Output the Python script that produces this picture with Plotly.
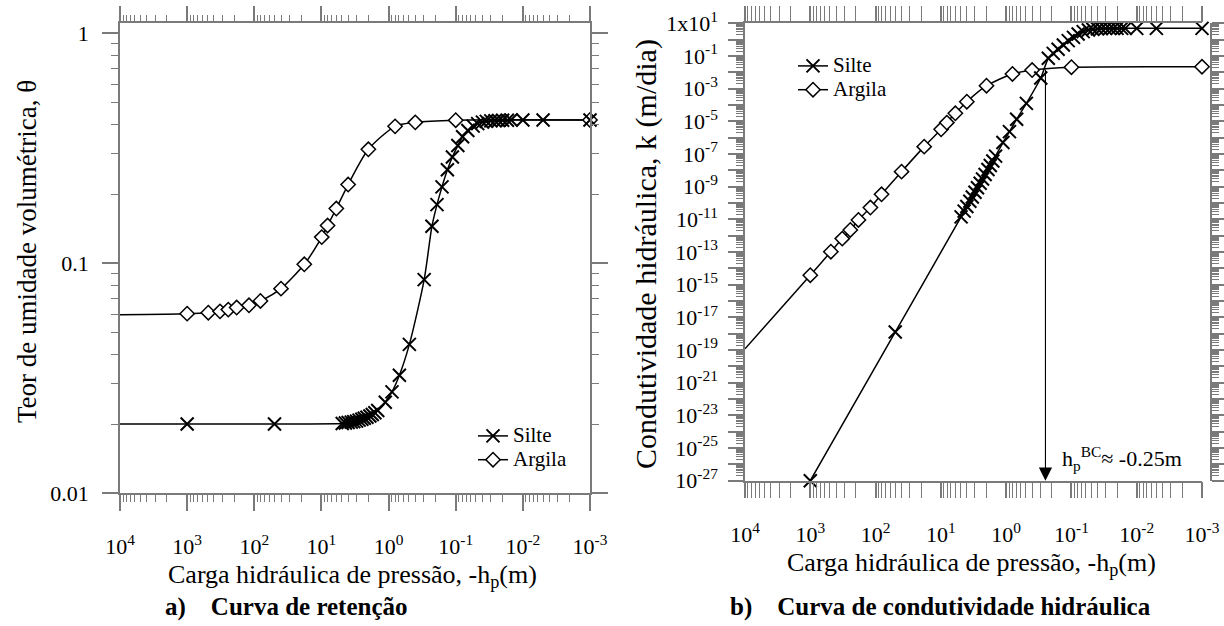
import numpy as np
import plotly.graph_objects as go

# ---------------- data ----------------
# common pressure-head axis (m, shown as -h_p)
h_ticks = [1e4, 1e3, 1e2, 1e1, 1e0, 1e-1, 1e-2, 1e-3]
h_ticktext = ["10<sup>4</sup>", "10<sup>3</sup>", "10<sup>2</sup>", "10<sup>1</sup>",
              "10<sup>0</sup>", "10<sup>-1</sup>", "10<sup>-2</sup>", "10<sup>-3</sup>"]
theta_ticks = [1, 0.1, 0.01]
theta_ticktext = ["1", "0.1", "0.01"]
k_tick_exps = list(range(1, -28, -1))

# Silte (silt) points
silte_h = [1000, 50, 4.9, 4.4, 4.0, 3.6, 3.3, 3.0, 2.75, 2.5, 2.3, 2.1, 1.9, 1.75, 1.6, 1.45,
           1.12, 0.89, 0.69, 0.49, 0.295, 0.226, 0.19, 0.16, 0.133, 0.112, 0.093, 0.079,
           0.066, 0.055, 0.047, 0.040, 0.035, 0.030, 0.026, 0.023, 0.020, 0.017, 0.015,
           0.010, 0.005, 0.001]
silte_theta = [0.0200, 0.0200, 0.0201, 0.0202, 0.0203, 0.0204, 0.0205, 0.0206, 0.0208, 0.0210,
               0.0212, 0.0214, 0.0217, 0.0220, 0.0224, 0.0229,
               0.0249, 0.0276, 0.0326, 0.0444, 0.0849, 0.145, 0.180, 0.215, 0.255, 0.290,
               0.325, 0.355, 0.378, 0.395, 0.405, 0.411, 0.414, 0.416, 0.417, 0.418, 0.419,
               0.419, 0.420, 0.420, 0.420, 0.420]
silte_log10k = [-27.0, -17.9, -10.85, -10.50, -10.21, -9.89, -9.63, -9.34, -9.07, -8.79,
                -8.53, -8.26, -7.95, -7.70, -7.43, -7.13,
                -6.30, -5.63, -4.87, -3.90, -2.35, -1.14, -0.84, -0.59, -0.33, -0.06,
                0.14, 0.35, 0.49, 0.59, 0.64, 0.66, 0.68, 0.69, 0.69, 0.69, 0.69,
                0.69, 0.69, 0.69, 0.69, 0.69]

# Argila (clay) points
argila_h = [1000, 484, 324, 244, 183, 120, 81, 40, 18, 9.9, 8.1, 6.0, 4.0, 2.0, 0.8, 0.4, 0.1, 0.001]
argila_theta = [0.0604, 0.0610, 0.0618, 0.0629, 0.0642, 0.0657, 0.0686, 0.0776, 0.099, 0.130,
                0.146, 0.173, 0.220, 0.313, 0.394, 0.410, 0.419, 0.420]
argila_log10k = [-14.42, -12.98, -12.18, -11.65, -11.04, -10.28, -9.47, -8.08, -6.55, -5.49,
                 -5.08, -4.51, -3.80, -2.82, -2.10, -1.86, -1.69, -1.66]

# curve values where the drawn lines meet the left edge (h = 10^4)
edge_h = 1e4
silte_theta_edge = 0.0200
argila_theta_edge = 0.0598
argila_log10k_edge = -18.93

# Brooks-Corey air-entry annotation
hp_bc = 0.25
hp_bc_log10k_top = -1.74

# ---------------- styling ----------------
W, H = 1224, 626
FONT = "Liberation Serif"
AX = "#7a7a7a"


def px(x):
    return x / W


def py(y):
    return 1 - y / H


silte_k = [10 ** v for v in silte_log10k]
argila_k = [10 ** v for v in argila_log10k]

fig = go.Figure()

line_style = dict(color="black", width=1.5, shape="spline", smoothing=0.7)
silte_marker = dict(symbol="x-thin", size=13, color="black", line=dict(color="black", width=2))
argila_marker = dict(symbol="diamond", size=11, color="white", line=dict(color="black", width=1.5))


def add_panel(xa, ya, legend, s_y, a_y, s_edge, a_edge):
    sx = ([edge_h] if s_edge is not None else []) + silte_h
    sy = ([s_edge] if s_edge is not None else []) + s_y
    ax_ = [edge_h] + argila_h
    ay_ = [a_edge] + a_y
    fig.add_trace(go.Scatter(x=sx, y=sy, mode="lines", line=line_style, xaxis=xa, yaxis=ya,
                             showlegend=False, hoverinfo="skip"))
    fig.add_trace(go.Scatter(x=ax_, y=ay_, mode="lines", line=line_style, xaxis=xa, yaxis=ya,
                             showlegend=False, hoverinfo="skip"))
    fig.add_trace(go.Scatter(x=argila_h, y=a_y, mode="markers", marker=argila_marker,
                             xaxis=xa, yaxis=ya, showlegend=False, cliponaxis=False))
    fig.add_trace(go.Scatter(x=silte_h, y=s_y, mode="markers", marker=silte_marker,
                             xaxis=xa, yaxis=ya, showlegend=False, cliponaxis=False))
    fig.add_trace(go.Scatter(x=[None], y=[None], mode="lines+markers",
                             name="<span style='font-size:21px'>Silte</span>",
                             line=dict(color="black", width=1.5), marker=silte_marker,
                             xaxis=xa, yaxis=ya, legend=legend))
    fig.add_trace(go.Scatter(x=[None], y=[None], mode="lines+markers",
                             name="<span style='font-size:21px'>Argila</span>",
                             line=dict(color="black", width=1.5), marker=argila_marker,
                             xaxis=xa, yaxis=ya, legend=legend))


add_panel("x", "y", "legend", silte_theta, argila_theta, silte_theta_edge, argila_theta_edge)
add_panel("x2", "y2", "legend2", silte_k, argila_k, None, 10 ** argila_log10k_edge)
# carrier for the detached right-hand axis of panel b
fig.add_trace(go.Scatter(x=[None], y=[None], xaxis="x2", yaxis="y3", showlegend=False))


def minor_vals(lo, hi):
    vals = []
    for e in range(lo, hi):
        for m in range(2, 10):
            vals.append(m * 10.0 ** e)
    return vals


tickfont = dict(family=FONT, size=22, color="black")
common = dict(type="log", showline=True, linecolor=AX, linewidth=1.5, mirror="allticks",
              ticks="outside", ticklen=16, tickwidth=1.5, tickcolor=AX, showgrid=False,
              zeroline=False, tickfont=tickfont, automargin=False)

xcommon = dict(common, range=[4, -3], tickmode="array", tickvals=h_ticks, ticktext=h_ticktext,
               ticklabelstandoff=17,
               minor=dict(ticks="outside", ticklen=7, tickwidth=1, tickcolor=AX,
                          tickmode="array", tickvals=minor_vals(-3, 4), showgrid=False))

k_tickvals = [10.0 ** e for e in k_tick_exps]
k_ticktext = []
for e in k_tick_exps:
    if e == 1:
        k_ticktext.append("1x10<sup>1</sup>")
    elif e % 2 != 0:
        k_ticktext.append("10<sup>%d</sup>" % e)
    else:
        k_ticktext.append("")

k_minor = dict(ticks="outside", ticklen=7, tickwidth=1, tickcolor=AX,
               tickmode="array", tickvals=minor_vals(-27, 1), showgrid=False)

legend_font = dict(family=FONT, size=16, color="black")

fig.update_layout(
    width=W, height=H, margin=dict(l=0, r=0, t=0, b=0),
    paper_bgcolor="white", plot_bgcolor="white",
    font=dict(family=FONT, color="black"),
    xaxis=dict(xcommon, domain=[px(120), px(590)], anchor="y"),
    yaxis=dict(common, domain=[py(493.3), py(23.3)], anchor="x", range=[-2, 0.0435],
               tickmode="array", tickvals=theta_ticks, ticktext=theta_ticktext,
               ticklabelstandoff=9,
               minor=dict(ticks="outside", ticklen=7, tickwidth=1, tickcolor=AX,
                          tickmode="array", tickvals=minor_vals(-2, 1), showgrid=False)),
    xaxis2=dict(xcommon, domain=[px(745), px(1202)], anchor="y2"),
    yaxis2=dict(common, domain=[py(480.7), py(23.3)], anchor="x2", range=[-27, 1],
                mirror=False, tickmode="array", tickvals=k_tickvals, ticktext=k_ticktext,
                ticklen=15, ticklabelstandoff=6, minor=k_minor),
    yaxis3=dict(type="log", overlaying="y2", side="right", anchor="free", position=px(1211),
                range=[-27, 1], showline=True, linecolor=AX, linewidth=1.5, ticks="outside",
                ticklen=13, tickwidth=1.5, tickcolor=AX, showgrid=False, zeroline=False,
                tickmode="array", tickvals=k_tickvals, showticklabels=False, minor=k_minor),
    legend=dict(x=px(473), y=py(419), xanchor="left", yanchor="top", bgcolor="rgba(0,0,0,0)",
                font=legend_font, tracegroupgap=0),
    legend2=dict(x=px(793), y=py(49), xanchor="left", yanchor="top", bgcolor="rgba(0,0,0,0)",
                 font=legend_font, tracegroupgap=0),
    showlegend=True,
)

ann = []


def label(text, x, y, size, angle=0, bold=False, xanchor="center"):
    ann.append(dict(text=("<b>%s</b>" % text) if bold else text, x=px(x), y=py(y),
                    xref="paper", yref="paper", xanchor=xanchor, yanchor="middle",
                    textangle=angle, showarrow=False,
                    font=dict(family=FONT, size=size, color="black")))


label("Carga hidráulica de pressão, -h<sub>p</sub>(m)", 353, 576, 26)
label("Carga hidráulica de pressão, -h<sub>p</sub>(m)", 971, 564, 26)
label("Teor de umidade volumétrica, θ", 27, 252, 27, angle=-90)
label("Condutividade hidráulica, k (m/dia)", 646, 254, 30, angle=-90)
label("a)    Curva de retenção", 286, 607, 25, bold=True)
label("b)    Curva de condutividade hidráulica", 940, 607, 25, bold=True)
label("h<sub>p</sub><sup>BC</sup>≈ -0.25m", 1060, 458, 22, xanchor="left")

ann.append(dict(x=np.log10(hp_bc), y=-27, ax=np.log10(hp_bc), ay=hp_bc_log10k_top,
                xref="x2", yref="y2", axref="x2", ayref="y2", showarrow=True,
                arrowhead=2, arrowsize=2.4, arrowwidth=1.1, arrowcolor="black", text=""))
fig.update_layout(annotations=ann)

fig.write_html("out.html", config={"displayModeBar": False},
               post_script="document.body.style.margin='0px';")
